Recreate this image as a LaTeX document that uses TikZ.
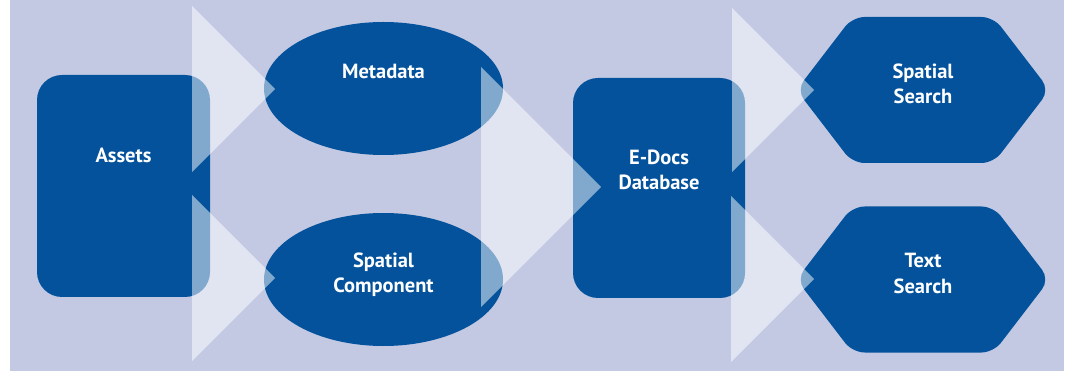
\documentclass[tikz,border=0pt]{standalone}
\usepackage{fontspec}
\setmainfont{PT Sans}
\usetikzlibrary{shapes.geometric,shapes.symbols}

\definecolor{bglav}{RGB}{195,201,227}
\definecolor{docblue}{RGB}{3,82,155}

\tikzset{
  box/.style={fill=docblue, rounded corners=25pt, inner sep=0pt},
  oval/.style={ellipse, fill=docblue, inner sep=0pt},
  hexa/.style={signal, signal to=west and east, signal pointer angle=105,
    fill=docblue, rounded corners=12pt, inner sep=0pt},
  lbl/.style={text=white, font=\bfseries\fontsize{20.5}{25.5}\selectfont,
    align=center, inner sep=0pt},
  flow/.style={fill=white, fill opacity=0.5},
}

\begin{document}
\begin{tikzpicture}[x=1pt,y=-1pt]
  \useasboundingbox (0,0) rectangle (1068,371);
  \fill[bglav] (10,0) rectangle (1064,371);

  % shapes
  \node[box, minimum width=173pt, minimum height=222pt] (assets) at (123.5,186) {};
  \node[oval, minimum width=239pt, minimum height=133pt] (meta) at (383.5,88.5) {};
  \node[oval, minimum width=239pt, minimum height=133pt] (spcomp) at (383.5,279.5) {};
  \node[box, minimum width=172pt, minimum height=220pt] (edocs) at (659,188) {};
  \node[hexa, minimum width=253pt, minimum height=146pt] (spsearch) at (923,90) {};
  \node[hexa, minimum width=253pt, minimum height=146pt] (txtsearch) at (923,279.5) {};

  % labels
  \node[lbl] (assets-lbl) at ([yshift=31pt]assets.center) {Assets};
  \node[lbl] (meta-lbl) at ([yshift=17pt]meta.center) {Metadata};
  \node[lbl] (spcomp-lbl) at ([yshift=5pt]spcomp.center) {Spatial\\Component};
  \node[lbl] (edocs-lbl) at ([yshift=18pt]edocs.center) {E-Docs\\Database};
  \node[lbl] (spsearch-lbl) at ([yshift=6pt]spsearch.center) {Spatial\\Search};
  \node[lbl] (txtsearch-lbl) at ([yshift=6pt]txtsearch.center) {Text\\Search};

  % flow arrows
  \foreach \tx/\ty/\h in {275/89/83, 275/278/83, 601/187/120, 814/90/82, 814/279/83}
    \fill[flow] (\tx-\h,\ty-\h) -- (\tx,\ty) -- (\tx-\h,\ty+\h) -- cycle;
\end{tikzpicture}
\end{document}
